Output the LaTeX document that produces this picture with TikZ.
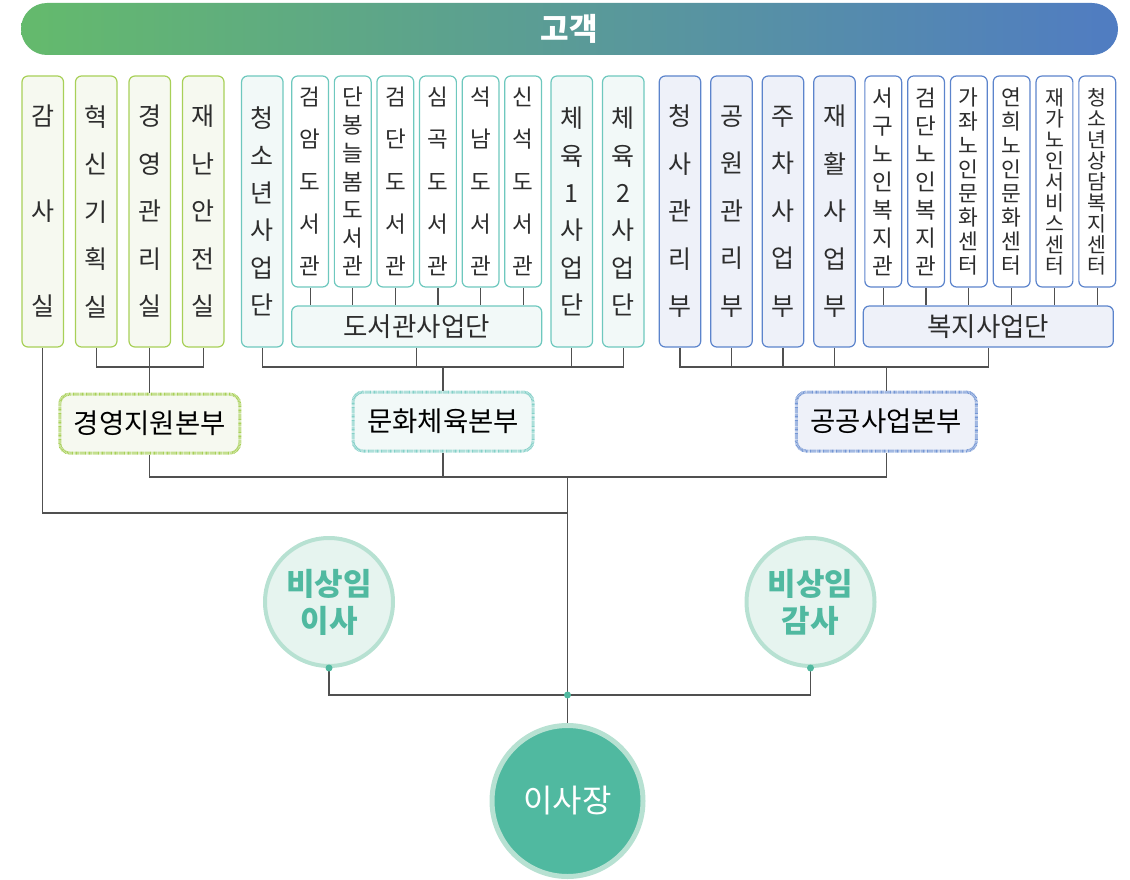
\documentclass[tikz,border=0pt]{standalone}
\usepackage{fontspec}
\setmainfont{Noto Sans CJK KR}
\usepackage{tikz}
\usetikzlibrary{positioning, calc}
\definecolor{mgmtgreen}{RGB}{168,208,88}
\definecolor{mgmtfill}{RGB}{246,249,240}
\definecolor{cultteal}{RGB}{110,200,190}
\definecolor{cultfill}{RGB}{242,249,248}
\definecolor{pubblue}{RGB}{92,132,204}
\definecolor{pubfill}{RGB}{238,241,249}
\definecolor{barleft}{RGB}{100,186,108}
\definecolor{barright}{RGB}{80,124,194}
\definecolor{boardteal}{RGB}{80,185,160}
\definecolor{boardring}{RGB}{183,225,210}
\definecolor{boardfill}{RGB}{230,244,239}
\definecolor{linegray}{RGB}{80,80,80}
\definecolor{textgray}{RGB}{45,45,45}

\begin{document}
\begin{tikzpicture}[
    x=1pt, y=-1pt,
    tallbox/.style={rectangle, draw, rounded corners=6pt, line width=1.2pt, minimum width=41.5pt, minimum height=271pt, inner sep=0pt, align=center, text=textgray, font=\fontsize{25}{#1}\selectfont},
    thinbox/.style={rectangle, draw, fill=white, rounded corners=6pt, line width=1.2pt, minimum width=36.8pt, minimum height=211pt, inner sep=0pt, align=center, text=textgray, font=\fontsize{22.5}{#1}\selectfont},
    unitbox/.style={rectangle, draw, rounded corners=6pt, line width=1.2pt, minimum width=250pt, minimum height=41pt, inner sep=0pt, text=textgray, font=\fontsize{26.5}{30}\selectfont},
    hqbox/.style={rectangle, rounded corners=10pt, line width=3pt, dash pattern=on 0.7pt off 0.6pt, minimum width=180pt, minimum height=59pt, text=black, font=\fontsize{27.5}{30}\selectfont},
    mgmtunit/.style={draw=mgmtgreen, fill=mgmtfill},
    cultunit/.style={draw=cultteal, fill=cultfill},
    pubunit/.style={draw=pubblue, fill=pubfill},
    board/.style={circle, draw=boardring, fill=boardfill, line width=4pt, minimum size=128pt, inner sep=0pt, align=center, text=boardteal, font=\fontsize{31}{37}\selectfont\bfseries},
    link/.style={draw=linegray, line width=1.2pt}
]
\useasboundingbox (0,0) rectangle (1130,880);

% Customer bar
\node[rectangle, rounded corners=26pt, minimum width=1097pt, minimum height=52pt, left color=barleft, right color=barright, text=white, font=\fontsize{31}{34}\selectfont\bfseries] (client) at (569.5,29) {고객};

% Management support units
\node[tallbox=95, mgmtunit] (audit) at (42.75,211.5) {감\\사\\실};
\node[tallbox=47.5, mgmtunit, right=10.8pt of audit] (innov) {혁\\신\\기\\획\\실};
\node[tallbox=47.5, mgmtunit, right=10.8pt of innov] (mgmt) {경\\영\\관\\리\\실};
\node[tallbox=47.5, mgmtunit, right=10.8pt of mgmt] (safety) {재\\난\\안\\전\\실};

% Culture and sports units
\node[tallbox=37.4, cultunit] (youth) at (262.3,211.5) {청\\소\\년\\사\\업\\단};
\node[thinbox=42.25, draw=cultteal, below right=0pt and 7.5pt of youth.north east] (lib1) {검\\암\\도\\서\\관};
\node[thinbox=28.2, draw=cultteal, right=4.6pt of lib1] (lib2) {단\\봉\\늘\\봄\\도\\서\\관};
\node[thinbox=42.25, draw=cultteal, right=4.6pt of lib2] (lib3) {검\\단\\도\\서\\관};
\node[thinbox=42.25, draw=cultteal, right=4.6pt of lib3] (lib4) {심\\곡\\도\\서\\관};
\node[thinbox=42.25, draw=cultteal, right=4.6pt of lib4] (lib5) {석\\남\\도\\서\\관};
\node[thinbox=42.25, draw=cultteal, right=4.6pt of lib5] (lib6) {신\\석\\도\\서\\관};
\node[unitbox, cultunit] (libs) at (416.7,326.5) {도서관사업단};
\node[tallbox=37.4, cultunit] (sport1) at (571.8,211.5) {체\\육\\1\\사\\업\\단};
\node[tallbox=37.4, cultunit, right=8.8pt of sport1] (sport2) {체\\육\\2\\사\\업\\단};

% Public service units
\node[tallbox=47.5, pubunit] (bldg) at (680,211.5) {청\\사\\관\\리\\부};
\node[tallbox=47.5, pubunit, right=8.8pt of bldg] (park) {공\\원\\관\\리\\부};
\node[tallbox=47.5, pubunit, right=8.8pt of park] (parking) {주\\차\\사\\업\\부};
\node[tallbox=47.5, pubunit, right=8.8pt of parking] (rehab) {재\\활\\사\\업\\부};
\node[thinbox=28, draw=pubblue, below right=0pt and 8.4pt of rehab.north east] (wel1) {서\\구\\노\\인\\복\\지\\관};
\node[thinbox=28, draw=pubblue, right=4.8pt of wel1] (wel2) {검\\단\\노\\인\\복\\지\\관};
\node[thinbox=24, draw=pubblue, right=4.8pt of wel2, font=\fontsize{21.5}{24}\selectfont] (wel3) {가\\좌\\노\\인\\문\\화\\센\\터};
\node[thinbox=24, draw=pubblue, right=4.8pt of wel3, font=\fontsize{21.5}{24}\selectfont] (wel4) {연\\희\\노\\인\\문\\화\\센\\터};
\node[thinbox=21, draw=pubblue, right=4.8pt of wel4, font=\fontsize{20.5}{21}\selectfont] (wel5) {재\\가\\노\\인\\서\\비\\스\\센\\터};
\node[thinbox=21, draw=pubblue, right=4.8pt of wel5, font=\fontsize{20.5}{21}\selectfont] (wel6) {청\\소\\년\\상\\담\\복\\지\\센\\터};
\node[unitbox, pubunit] (welfare) at (988.3,326.5) {복지사업단};

% Headquarters
\node[hqbox, mgmtunit, below=45pt of mgmt] (hqmgmt) {경영지원본부};
\node[hqbox, draw=cultteal!85, fill=cultfill] (hqcult) at (443,421.5) {문화체육본부};
\node[hqbox, draw=pubblue!85, fill=pubfill] (hqpub) at (886.3,421.5) {공공사업본부};

% Board
\node[board] (director) at (329,602) {비상임\\이사};
\node[board] (auditor) at (810.5,602) {비상임\\감사};
\node[board, fill=boardteal, text=white, line width=5pt, minimum size=151pt, font=\fontsize{32}{36}\selectfont] (ceo) at (567.5,801) {이사장};

% Library and welfare stubs
\draw[link] (lib1.south) -- (lib1.south |- libs.north);
\draw[link] (lib2.south) -- (lib2.south |- libs.north);
\draw[link] (lib3.south) -- (lib3.south |- libs.north);
\draw[link] (lib4.south) -- (lib4.south |- libs.north);
\draw[link] (lib5.south) -- (lib5.south |- libs.north);
\draw[link] (lib6.south) -- (lib6.south |- libs.north);
\draw[link] (wel1.south) -- (wel1.south |- welfare.north);
\draw[link] (wel2.south) -- (wel2.south |- welfare.north);
\draw[link] (wel3.south) -- (wel3.south |- welfare.north);
\draw[link] (wel4.south) -- (wel4.south |- welfare.north);
\draw[link] (wel5.south) -- (wel5.south |- welfare.north);
\draw[link] (wel6.south) -- (wel6.south |- welfare.north);

% Units to headquarters
\coordinate (mgmtjoin) at (149.75,367);
\coordinate (cultjoin) at (443,367);
\coordinate (pubjoin) at (886.3,367);
\draw[link] (innov.south) |- (mgmtjoin) -| (safety.south);
\draw[link] (mgmt.south) -- (hqmgmt.north);
\draw[link] (youth.south) |- (cultjoin) -| (sport2.south);
\draw[link] (libs.south) -- (libs.south |- cultjoin);
\draw[link] (sport1.south) -- (sport1.south |- cultjoin);
\draw[link] (cultjoin) -- (hqcult.north);
\draw[link] (bldg.south) |- (pubjoin) -| (welfare.south);
\draw[link] (park.south) -- (park.south |- pubjoin);
\draw[link] (parking.south) -- (parking.south |- pubjoin);
\draw[link] (rehab.south) -- (rehab.south |- pubjoin);
\draw[link] (pubjoin) -- (hqpub.north);

% Headquarters to CEO
\coordinate (hqjoin) at (567.5,477);
\coordinate (auditjoin) at (567.5,513);
\coordinate (boardjoin) at (567.5,695);
\draw[link] (hqmgmt.south) |- (hqjoin) -| (hqpub.south);
\draw[link] (hqcult.south) -- (hqcult.south |- hqjoin);
\draw[link] (audit.south) |- (auditjoin);
\draw[link] (hqjoin) -- (ceo.north);
\draw[link] (director.south) |- (boardjoin) -| (auditor.south);
\fill[boardteal] (director.south) circle (3.5pt);
\fill[boardteal] (auditor.south) circle (3.5pt);
\fill[boardteal] (boardjoin) circle (3.5pt);

\end{tikzpicture}
\end{document}
